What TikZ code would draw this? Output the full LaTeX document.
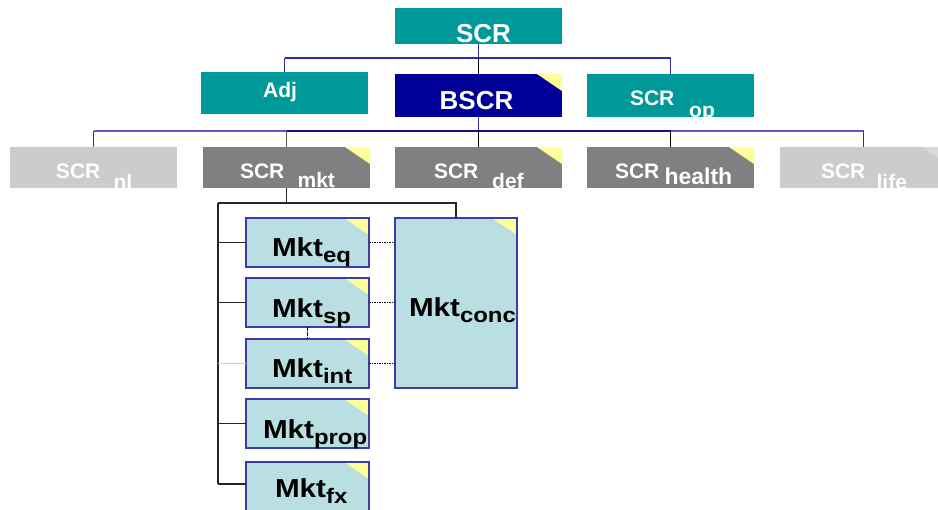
\documentclass[tikz,border=0pt]{standalone}
\usepackage{graphicx}
\usepackage{fontspec}
\setmainfont{Liberation Sans}
\usetikzlibrary{calc}

\definecolor{tealbox}{RGB}{0,153,153}
\definecolor{navybox}{RGB}{0,0,153}
\definecolor{darkgreybox}{RGB}{128,128,128}
\definecolor{lightgreybox}{RGB}{204,204,204}
\definecolor{notefill}{RGB}{255,255,153}
\definecolor{notegrey}{RGB}{217,217,217}
\definecolor{riskfill}{RGB}{186,223,227}
\definecolor{riskedge}{RGB}{60,60,170}
\definecolor{linkblue}{RGB}{45,45,175}
\definecolor{linklight}{RGB}{90,90,195}
\definecolor{linkdark}{RGB}{20,20,120}
\definecolor{linkcyan}{RGB}{170,220,228}

% rectangle given by its corners (x1,y1) and (x2,y2), in pixels from the top left
\newcommand\boxnode[6]{%
  \node[boxbase,#6,minimum width={(#4-#2)*1pt},minimum height={(#5-#3)*1pt}] (#1) at (#2,#3) {};}
% folded note corner at the top right of a box
\newcommand\notecorner[2][notefill]{%
  \fill[#1] ([xshift=-25pt]#2.north east) -- (#2.north east) -- ([yshift=-17pt]#2.north east) -- cycle;}
% lowered index text
\newcommand\lowered[3]{\raisebox{-#1pt}{\fontsize{#2}{#2}\selectfont #3}}
\newcommand\mktlab[1]{\scalebox{1.14}[1]{Mkt\lowered{6}{21}{#1}}}

\begin{document}
\begin{tikzpicture}[x=1pt,y=-1pt,
  boxbase/.style={anchor=north west,inner sep=0,outer sep=0},
  riskbox/.style={fill=riskfill},
  big/.style={font=\fontsize{26}{26}\selectfont\bfseries,inner sep=0,outer sep=0},
  small/.style={font=\fontsize{21}{21}\selectfont\bfseries,inner sep=0,outer sep=0},
  mktfont/.style={font=\fontsize{26}{26}\selectfont\bfseries,inner sep=0,outer sep=0,anchor=base west,text=black},
  bluelink/.style={draw=linkblue,line width=1.2pt},
  blacklink/.style={draw=black,line width=1.2pt},
  treelink/.style={draw=black!85,line width=1.6pt},
  dotlink/.style={draw=black,line width=1.8pt,dash pattern=on 1.6pt off 0.9pt}]

\useasboundingbox (0,0) rectangle (938,510);

% ---- top level
\boxnode{scr}{395}{8}{562}{44}{fill=tealbox}
\boxnode{adj}{201}{72}{368}{114}{fill=tealbox}
\boxnode{bscr}{395}{74}{562}{117}{fill=navybox}
\boxnode{op}{587}{74}{754}{117}{fill=tealbox}
\notecorner{bscr}

\node[big,text=white,anchor=base] (scr-t) at (483.5,43) {SCR};
\node[small,text=white,anchor=base] (adj-t) at (280,98) {Adj};
\node[big,text=white,anchor=base] (bscr-t) at (476.5,110) {BSCR};
\node[small,text=white,anchor=base west] (op-t) at (630,106) {SCR\hspace{14.9pt}\lowered{12}{21}{op}};

% ---- risk modules
\boxnode{nl}{10}{147}{177}{188}{fill=lightgreybox}
\boxnode{mkt}{203}{147}{370}{188}{fill=darkgreybox}
\boxnode{def}{395}{147}{562}{188}{fill=darkgreybox}
\boxnode{health}{587}{147}{754}{188}{fill=darkgreybox}
\boxnode{life}{780}{147}{947}{188}{fill=lightgreybox}
\notecorner{mkt}
\notecorner{def}
\notecorner{health}
\notecorner[notegrey]{life}

\node[small,text=white,anchor=base west] (nl-t) at (56,179) {SCR\hspace{13.3pt}\lowered{11}{21}{nl}};
\node[small,text=white,anchor=base west] (mkt-t) at (240,179) {SCR\hspace{13.3pt}\lowered{9}{21}{mkt}};
\node[small,text=white,anchor=base west] (def-t) at (434,179) {SCR\hspace{13.9pt}\lowered{10}{21}{def}};
\node[small,text=white,anchor=base west] (health-t) at (615,179) {SCR\hspace{5.2pt}\lowered{6}{23}{health}};
\node[small,text=white,anchor=base west] (life-t) at (821,179) {SCR\hspace{11.3pt}\lowered{11}{21}{life}};

% ---- market sub-modules
\boxnode{eq}{246}{218}{369}{267}{riskbox}
\boxnode{sp}{246}{278}{369}{327}{riskbox}
\boxnode{int}{246}{339}{369}{388}{riskbox}
\boxnode{prop}{246}{399}{369}{448}{riskbox}
\boxnode{fx}{246}{462}{369}{511}{riskbox}
\boxnode{conc}{395}{218}{517}{388}{riskbox}
\foreach \b in {eq,sp,int,prop,fx,conc}{
  \notecorner{\b}
  \draw[riskedge,line width=1.6pt] (\b.north west) rectangle (\b.south east);
}

\node[mktfont] (eq-t) at (272,257) {\mktlab{eq}};
\node[mktfont] (sp-t) at (272,318) {\mktlab{sp}};
\node[mktfont] (int-t) at (272,378) {\mktlab{int}};
\node[mktfont] (prop-t) at (263,439) {\mktlab{prop}};
\node[mktfont] (fx-t) at (275,498) {\mktlab{fx}};
\node[mktfont] (conc-t) at (409,317) {\mktlab{conc}};

% ---- connectors, top level
\coordinate (bus1) at (478.5,58);
\coordinate (bus2) at (478.5,131);
\draw[bluelink] (scr.south) -- (bus1);
\draw[bluelink] (adj.north |- bus1) -- (op.north |- bus1);
\draw[bluelink] (adj.north |- bus1) -- (adj.north);
\draw[bluelink] (op.north |- bus1) -- (op.north);
\draw[blacklink] (bus1) -- (bscr.north);

% ---- connectors, risk modules
\draw[bluelink] (bscr.south) -- (bus2);
\draw[draw=linklight,line width=1.2pt] (nl.north |- bus2) -- (mkt.north |- bus2);
\draw[draw=linkdark,line width=1.2pt] (mkt.north |- bus2) -- (health.north |- bus2);
\draw[draw=linklight,line width=1.2pt] (health.north |- bus2) -- (life.north |- bus2);
\draw[bluelink] (nl.north |- bus2) -- (nl.north);
\draw[draw=black!65,line width=1.2pt] (mkt.north |- bus2) -- (mkt.north);
\draw[blacklink] (def.north |- bus2) -- (def.north);
\draw[blacklink] (health.north |- bus2) -- (health.north);
\draw[bluelink] (life.north |- bus2) -- (life.north);

% ---- market tree
\coordinate (bus3) at (286.5,203);
\coordinate (trunk) at (218,203);
\coordinate (trunkend) at (218,484);
\draw[treelink] (mkt.south) -- (bus3);
\draw[treelink] (trunk) -- (conc.north |- bus3) -- (conc.north);
\draw[treelink] (trunk) -- (trunkend);
\draw[treelink] (eq.west -| trunk) -- (eq.west);
\draw[treelink] (sp.west -| trunk) -- (sp.west);
\draw[draw=linkcyan,line width=1.3pt] (int.west -| trunk) -- (int.west);
\draw[treelink] (prop.west -| trunk) -- (prop.west);
\draw[treelink] (trunkend) -- (trunkend -| fx.west);

% ---- correlation links
\draw[dotlink] (eq.east) -- (eq.east -| conc.west);
\draw[dotlink] (sp.east) -- (sp.east -| conc.west);
\draw[dotlink] (int.east) -- (int.east -| conc.west);
\draw[dotlink] (sp.south) -- (int.north);
\end{tikzpicture}
\end{document}
